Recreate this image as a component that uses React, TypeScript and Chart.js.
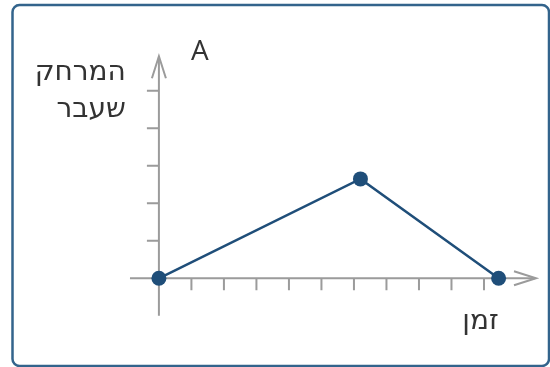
import React, { useEffect, useRef } from "react";
import { Chart, registerables } from "chart.js";

Chart.register(...registerables);

// Data (x in tick units of time, y in tick units of distance)
const timeValues = [0, 6.2, 10.45];
const distanceValues = [0, 2.65, 0];
const xTickValues = [1, 2, 3, 4, 5, 6, 7, 8, 9, 10];
const yTickValues = [1, 2, 3, 4, 5];
const yAxisLabel = ["המרחק", "שעבר"];
const xAxisLabel = "זמן";
const graphLabel = "A";

const AXIS_X_START = -0.89;
const AXIS_X_END = 11.6;
const AXIS_Y_START = -1.0;
const AXIS_Y_END = 5.92;

const HEB_FONT = '"DejaVu Sans", sans-serif';
const LATIN_FONT = '"Open Sans", "DejaVu Sans", sans-serif';

const decorPlugin = {
  id: "decor",
  beforeDatasetsDraw(chart: any) {
    const ctx: CanvasRenderingContext2D = chart.ctx;
    const xs = chart.scales.x;
    const ys = chart.scales.y;
    const ox = xs.getPixelForValue(0);
    const oy = ys.getPixelForValue(0);

    ctx.save();
    // Frame
    ctx.strokeStyle = "#33648c";
    ctx.lineWidth = 2.5;
    ctx.beginPath();
    (ctx as any).roundRect(12.5, 5, 536.5, 361, 7);
    ctx.stroke();

    // Axes
    ctx.strokeStyle = "#9b9b9b";
    ctx.lineWidth = 2;
    ctx.lineCap = "butt";
    const xEnd = xs.getPixelForValue(AXIS_X_END);
    const yEnd = ys.getPixelForValue(AXIS_Y_END);
    ctx.beginPath();
    ctx.moveTo(xs.getPixelForValue(AXIS_X_START), oy);
    ctx.lineTo(xEnd - 1, oy);
    ctx.moveTo(ox, ys.getPixelForValue(AXIS_Y_START));
    ctx.lineTo(ox, yEnd + 1);
    ctx.stroke();

    // Arrow heads (open chevrons)
    ctx.beginPath();
    ctx.moveTo(xEnd - 22, oy - 7);
    ctx.lineTo(xEnd, oy);
    ctx.lineTo(xEnd - 22, oy + 7);
    ctx.moveTo(ox - 7, yEnd + 22);
    ctx.lineTo(ox, yEnd);
    ctx.lineTo(ox + 7, yEnd + 22);
    ctx.stroke();

    // Tick marks
    ctx.beginPath();
    xTickValues.forEach((v) => {
      const px = xs.getPixelForValue(v);
      ctx.moveTo(px, oy);
      ctx.lineTo(px, oy + 12);
    });
    yTickValues.forEach((v) => {
      const py = ys.getPixelForValue(v);
      ctx.moveTo(ox, py);
      ctx.lineTo(ox - 12, py);
    });
    ctx.stroke();

    // Labels
    ctx.fillStyle = "#333333";
    ctx.textBaseline = "alphabetic";
    ctx.font = `28px ${HEB_FONT}`;
    ctx.textAlign = "right";
    (ctx as any).direction = "rtl";
    ctx.fillText(yAxisLabel[0], ox - 33, 80);
    ctx.fillText(yAxisLabel[1], ox - 33, 117);
    ctx.fillText(xAxisLabel, xs.getPixelForValue(10.45), oy + 51);
    (ctx as any).direction = "ltr";
    ctx.textAlign = "left";
    ctx.font = `28px ${LATIN_FONT}`;
    ctx.fillText(graphLabel, ox + 32, 60);
    ctx.restore();
  },
};

export default function App() {
  const canvasRef = useRef<HTMLCanvasElement | null>(null);

  useEffect(() => {
    const canvas = canvasRef.current;
    if (!canvas) return;
    const chart = new Chart(canvas, {
      type: "scatter",
      data: {
        datasets: [
          {
            data: timeValues.map((x, i) => ({ x, y: distanceValues[i] })),
            showLine: true,
            borderColor: "#1f4e79",
            borderWidth: 2.5,
            pointRadius: 7.5,
            pointHoverRadius: 7.5,
            pointBackgroundColor: "#1f4e79",
            pointBorderWidth: 0,
            clip: false,
          } as any,
        ],
      },
      options: {
        animation: false,
        responsive: false,
        devicePixelRatio: 1,
        layout: {
          padding: { left: 126.4, right: 6.3, top: 53.2, bottom: 32.4 },
        },
        scales: {
          x: { type: "linear", min: -1, max: 11.8, display: false },
          y: { type: "linear", min: -1.5, max: 6, display: false },
        },
        plugins: {
          legend: { display: false },
          tooltip: { enabled: false },
        },
        events: [],
      },
      plugins: [decorPlugin],
    });
    return () => chart.destroy();
  }, []);

  return (
    <div style={{ position: "absolute", left: 0, top: 0, width: 550, height: 367, background: "#ffffff" }}>
      <canvas ref={canvasRef} width={550} height={367} />
    </div>
  );
}
